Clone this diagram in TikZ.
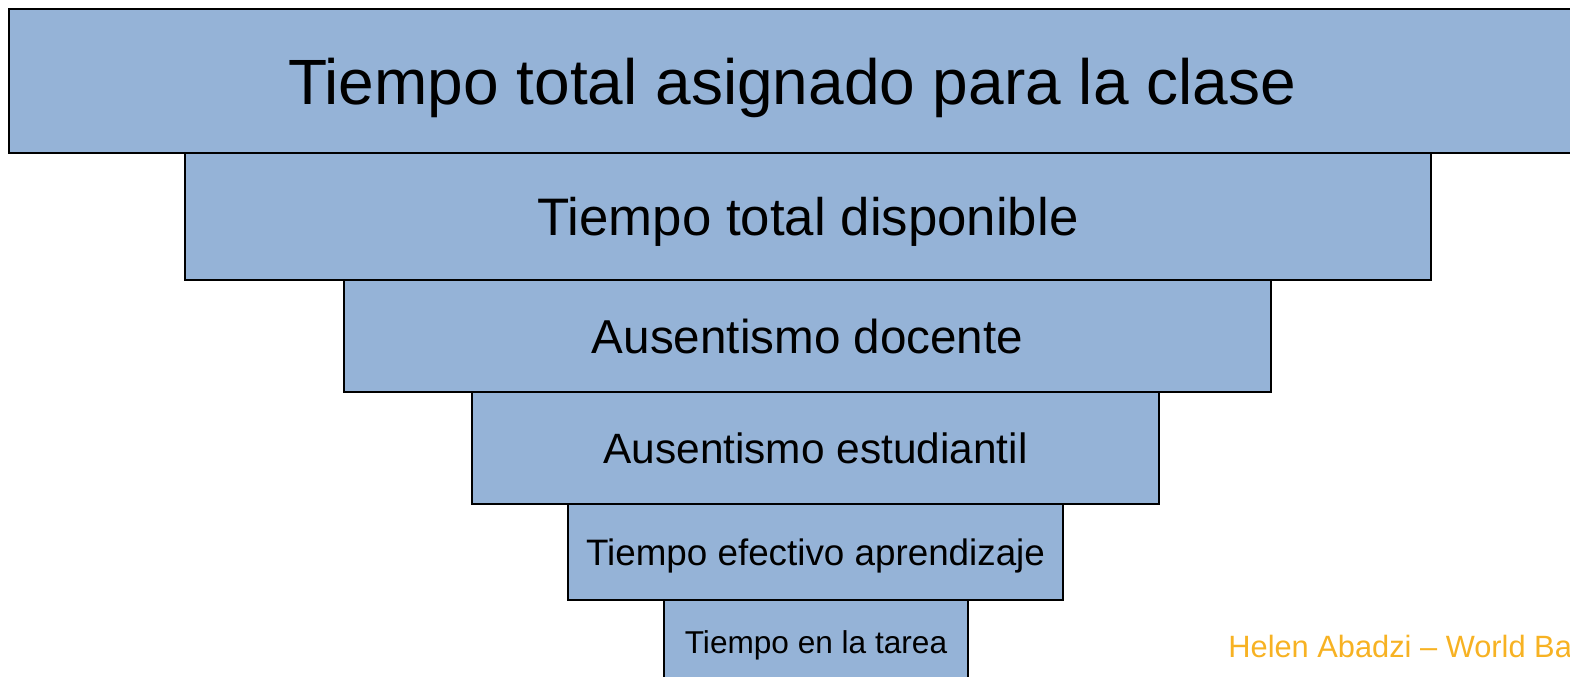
\documentclass[tikz,border=0pt]{standalone}
\usepackage{fontspec}
\setmainfont{Liberation Sans}
\usepackage{tikz}
\usetikzlibrary{positioning}
\definecolor{tierblue}{RGB}{149,179,215}
\definecolor{creditorange}{RGB}{247,178,35}
\tikzstyle{tier} = [rectangle, draw=black, fill=tierblue, line width=0.75pt,
    inner sep=0pt, text depth=0pt, text centered]
\tikzstyle{credit} = [text=creditorange, inner sep=0pt, anchor=base west]

\begin{document}
\begin{tikzpicture}[x=0.5pt, y=-0.5pt]
        \useasboundingbox (0,0) rectangle (1570,676);
        % Place nodes
        \node [tier, minimum width=783pt, minimum height=72pt,
            font=\fontsize{32}{38}\selectfont] (total) at (792,81)
            {Tiempo total asignado para la clase};
        \node [tier, minimum width=623pt, minimum height=63.5pt,
            font=\fontsize{26.4}{32}\selectfont] (disponible) at (808,216.5)
            {Tiempo total disponible};
        \node [tier, minimum width=463.5pt, minimum height=56pt,
            font=\fontsize{23.8}{28}\selectfont] (docente) at (807.5,336)
            {Ausentismo docente};
        \node [tier, minimum width=343.5pt, minimum height=56pt,
            font=\fontsize{21.2}{26}\selectfont] (estudiantil) at (815.5,448)
            {Ausentismo estudiantil};
        \node [tier, minimum width=247.5pt, minimum height=48pt,
            font=\fontsize{18.4}{22}\selectfont] (efectivo) at (815.5,552)
            {Tiempo efectivo aprendizaje};
        \node [tier, minimum width=152pt, minimum height=42pt,
            font=\fontsize{15.8}{19}\selectfont] (tarea) at (816,642)
            {Tiempo en la tarea};
        \node [credit, font=\fontsize{15.4}{18}\selectfont] (autora) at (1228,657)
            {Helen Abadzi -- World Bank};
\end{tikzpicture}
\end{document}
